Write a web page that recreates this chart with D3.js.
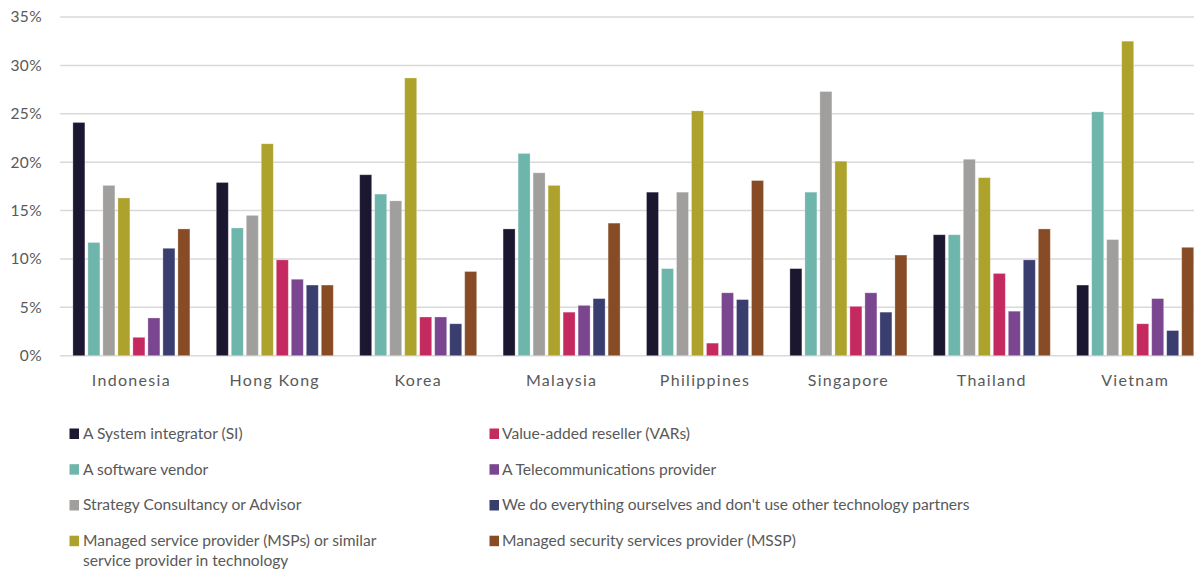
<!DOCTYPE html>
<html>
<head>
<meta charset="utf-8">
<script src="https://cdn.jsdelivr.net/npm/d3@7"></script>
<style>
  html, body { margin: 0; padding: 0; background: #fff; }
  svg { display: block; }
  text { font-family: "Lato", "Open Sans", sans-serif; fill: #595959; }
</style>
</head>
<body>
<svg id="chart" width="1194" height="569"></svg>
<script>
const countries = ["Indonesia", "Hong Kong", "Korea", "Malaysia", "Philippines", "Singapore", "Thailand", "Vietnam"];
const seriesNames = [
  "A System integrator (SI)",
  "A software vendor",
  "Strategy Consultancy or Advisor",
  "Managed service provider (MSPs) or similar service provider in technology",
  "Value-added reseller (VARs)",
  "A Telecommunications provider",
  "We do everything ourselves and don't use other technology partners",
  "Managed security services provider (MSSP)"
];
const seriesColors = ["#1c1730", "#6eb5ab", "#a19f9d", "#ada22b", "#c42a5f", "#7b4690", "#3a3e6f", "#874c26"];
// values in %, one array per series, ordered as countries
const siValues        = [24.1, 17.9, 18.7, 13.1, 16.9,  9.0, 12.5,  7.3];
const softwareValues  = [11.7, 13.2, 16.7, 20.9,  9.0, 16.9, 12.5, 25.2];
const strategyValues  = [17.6, 14.5, 16.0, 18.9, 16.9, 27.3, 20.3, 12.0];
const mspValues       = [16.3, 21.9, 28.7, 17.6, 25.3, 20.1, 18.4, 32.5];
const varValues       = [ 1.9,  9.9,  4.0,  4.5,  1.3,  5.1,  8.5,  3.3];
const telecomValues   = [ 3.9,  7.9,  4.0,  5.2,  6.5,  6.5,  4.6,  5.9];
const ourselvesValues = [11.1,  7.3,  3.3,  5.9,  5.8,  4.5,  9.9,  2.6];
const msspValues      = [13.1,  7.3,  8.7, 13.7, 18.1, 10.4, 13.1, 11.2];
const seriesValues = [siValues, softwareValues, strategyValues, mspValues, varValues, telecomValues, ourselvesValues, msspValues];
const yTicks = [0, 5, 10, 15, 20, 25, 30, 35];

const legendLines = [
  ["A System integrator (SI)"],
  ["A software vendor"],
  ["Strategy Consultancy or Advisor"],
  ["Managed service provider (MSPs) or similar", "service provider in technology"],
  ["Value-added reseller (VARs)"],
  ["A Telecommunications provider"],
  ["We do everything ourselves and don't use other technology partners"],
  ["Managed security services provider (MSSP)"]
];

const svg = d3.select("#chart");
const y = d3.scaleLinear().domain([0, 35]).range([355.7, 17]);
const x0 = d3.scaleBand().domain(countries).range([59.7, 1206.9]).paddingInner(0.184).paddingOuter(0.092);
const x1 = d3.scaleBand().domain(d3.range(seriesNames.length)).range([0, x0.bandwidth()]).paddingInner(0.2);

// grid
svg.append("g").selectAll("line").data(yTicks).join("line")
  .attr("x1", 60).attr("x2", 1194)
  .attr("y1", d => y(d)).attr("y2", d => y(d))
  .attr("stroke", "#d9d9d9").attr("stroke-width", 1.5);

// y axis labels
const yAxis = d3.axisLeft(y).tickValues(yTicks).tickFormat(d => d + "%").tickSize(0).tickPadding(0);
const ya = svg.append("g").attr("transform", "translate(42,0)").call(yAxis);
ya.select(".domain").remove();
ya.selectAll("text").style("font-size", "15.5px").style("font-family", "Lato, sans-serif")
  .style("letter-spacing", "0.4px").attr("fill", "#595959");

// bars
const groups = svg.append("g").selectAll("g").data(countries).join("g")
  .attr("transform", d => `translate(${x0(d)},0)`);
groups.selectAll("rect").data((c, ci) => seriesValues.map((vals, si) => ({ si, v: vals[ci] }))).join("rect")
  .attr("x", d => x1(d.si))
  .attr("width", x1.bandwidth())
  .attr("y", d => y(d.v))
  .attr("height", d => y(0) - y(d.v))
  .attr("fill", d => seriesColors[d.si])
  .attr("stroke", "#ffffff").attr("stroke-opacity", 0.35).attr("stroke-width", 0.8);

// x axis labels
const xAxis = d3.axisBottom(x0).tickSize(0).tickPadding(0);
const xa = svg.append("g").attr("transform", "translate(0,386)").call(xAxis);
xa.select(".domain").remove();
xa.selectAll("text").style("font-size", "16px").style("font-family", "Lato, sans-serif")
  .style("letter-spacing", "1.3px").attr("fill", "#595959").attr("dy", "0");

// legend
const colX = [69.5, 489.5];
const textX = [83, 502];
const rowY = [433.5, 469.2, 505, 540.7];
const legend = svg.append("g");
legendLines.forEach((lines, i) => {
  const col = i < 4 ? 0 : 1;
  const row = i % 4;
  legend.append("rect")
    .attr("x", colX[col]).attr("y", rowY[row] - 5).attr("width", 9.5).attr("height", 10.5)
    .attr("fill", seriesColors[i]);
  lines.forEach((ln, li) => {
    legend.append("text")
      .attr("x", textX[col]).attr("y", rowY[row] + li * 19.5)
      .attr("dy", "0.35em")
      .style("font-size", "15.6px")
      .text(ln);
  });
});
</script>
</body>
</html>
